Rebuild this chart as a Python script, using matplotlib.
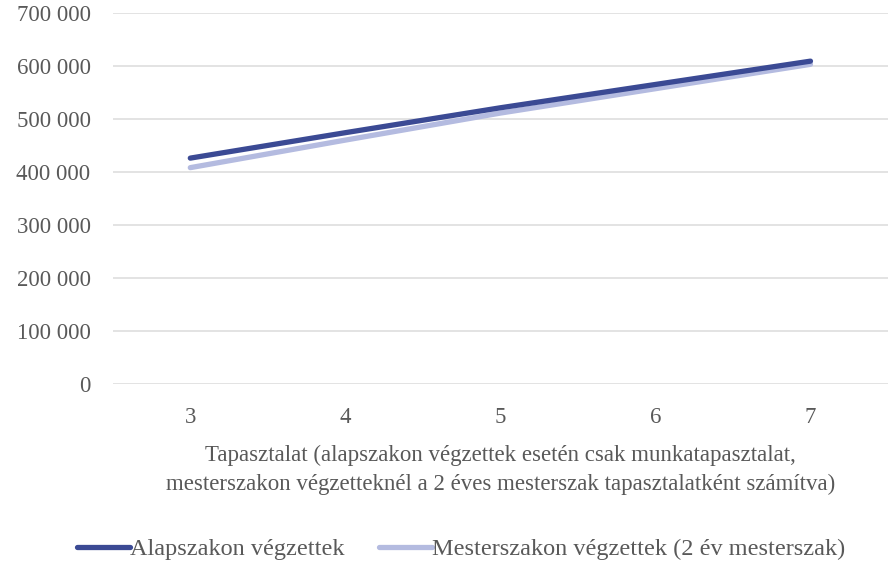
import matplotlib.pyplot as plt
from matplotlib.ticker import FuncFormatter

# data
years = [3, 4, 5, 6, 7]
alap = [426000, 474000, 521000, 565000, 609000]
mester = [408000, 460000, 511000, 557000, 603000]
series_labels = ['Alapszakon végzettek', 'Mesterszakon végzettek (2 év mesterszak)']
x_title = ('Tapasztalat (alapszakon végzettek esetén csak munkatapasztalat,\n'
           'mesterszakon végzetteknél a 2 éves mesterszak tapasztalatként számítva)')

plt.rcParams['font.family'] = ['Liberation Serif', 'DejaVu Serif']
text_color = '#595959'
fs = 16.5

fig = plt.figure(figsize=(8.88, 5.62), dpi=100)
ax = fig.add_axes([0.127, 0.317, 0.873, 0.66])

ax.plot(years, alap, color='#3B4A94', lw=3.8, solid_capstyle='round', label=series_labels[0], zorder=3)
ax.plot(years, mester, color='#B4BBE0', lw=3.8, solid_capstyle='round', label=series_labels[1], zorder=2)

ax.set_xlim(2.5, 7.5)
ax.set_ylim(0, 700000)
ax.set_yticks(range(0, 700001, 100000))
ax.set_xticks(years)
ax.yaxis.set_major_formatter(FuncFormatter(lambda v, p: f'{int(v):,}'.replace(',', ' ')))

ax.grid(axis='y', color='#E0E0E0', lw=1.3)
ax.set_axisbelow(True)
for s in ax.spines.values():
    s.set_visible(False)
ax.tick_params(length=0, labelsize=fs, colors=text_color)
ax.tick_params(axis='y', pad=16)
ax.tick_params(axis='x', pad=17)

ax.set_xlabel(x_title, fontsize=fs, color=text_color, labelpad=12, linespacing=1.45)

leg = fig.legend(loc='center', bbox_to_anchor=(0.519, 0.023), ncol=2, frameon=False,
                 fontsize=17.5, handlelength=2.2, handletextpad=0.0, columnspacing=1.4)
for t in leg.get_texts():
    t.set_color(text_color)

fig.savefig('out.png', dpi=100)
